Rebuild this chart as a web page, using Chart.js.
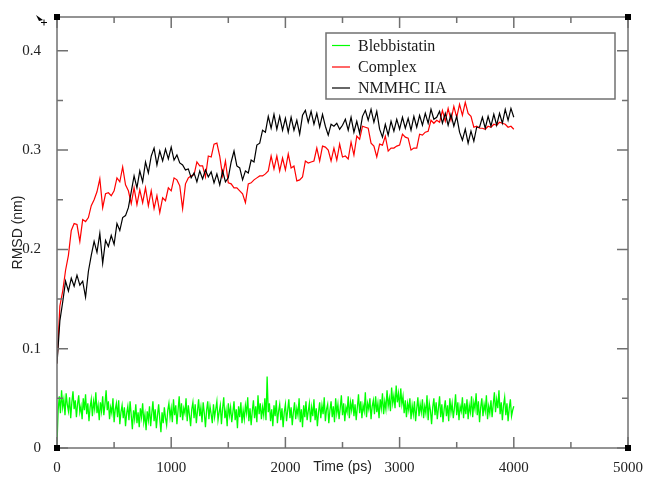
<!DOCTYPE html>
<html>
<head>
<meta charset="utf-8">
<script src="https://cdn.jsdelivr.net/npm/chart.js@4.4.1/dist/chart.umd.min.js"></script>
<style>
  html, body { margin: 0; padding: 0; background: #fff; }
  #wrap { width: 646px; height: 488px; position: relative; }
</style>
</head>
<body>
<div id="wrap"><canvas id="chart_rmsd"></canvas></div>
<script>
// time grid (ps) for the protein traces, 25 ps apart
var timeProt = [
    0, 25, 50, 75, 100, 125, 150, 175,
    200, 225, 250, 275, 300, 325, 350, 375,
    400, 425, 450, 475, 500, 525, 550, 575,
    600, 625, 650, 675, 700, 725, 750, 775,
    800, 825, 850, 875, 900, 925, 950, 975,
    1000, 1025, 1050, 1075, 1100, 1125, 1150, 1175,
    1200, 1225, 1250, 1275, 1300, 1325, 1350, 1375,
    1400, 1425, 1450, 1475, 1500, 1525, 1550, 1575,
    1600, 1625, 1650, 1675, 1700, 1725, 1750, 1775,
    1800, 1825, 1850, 1875, 1900, 1925, 1950, 1975,
    2000, 2025, 2050, 2075, 2100, 2125, 2150, 2175,
    2200, 2225, 2250, 2275, 2300, 2325, 2350, 2375,
    2400, 2425, 2450, 2475, 2500, 2525, 2550, 2575,
    2600, 2625, 2650, 2675, 2700, 2725, 2750, 2775,
    2800, 2825, 2850, 2875, 2900, 2925, 2950, 2975,
    3000, 3025, 3050, 3075, 3100, 3125, 3150, 3175,
    3200, 3225, 3250, 3275, 3300, 3325, 3350, 3375,
    3400, 3425, 3450, 3475, 3500, 3525, 3550, 3575,
    3600, 3625, 3650, 3675, 3700, 3725, 3750, 3775,
    3800, 3825, 3850, 3875, 3900, 3925, 3950, 3975,
    4000
];

// NMMHC IIA (black)
var rmsdNmmhc = [
    0.085, 0.128, 0.147, 0.168, 0.158, 0.171, 0.163, 0.174,
    0.164, 0.168, 0.152, 0.178, 0.194, 0.208, 0.197, 0.216,
    0.186, 0.209, 0.203, 0.214, 0.205, 0.226, 0.219, 0.232,
    0.234, 0.242, 0.258, 0.274, 0.262, 0.279, 0.268, 0.288,
    0.277, 0.294, 0.302, 0.285, 0.299, 0.289, 0.301, 0.291,
    0.303, 0.29, 0.295, 0.287, 0.285, 0.28, 0.281, 0.272,
    0.277, 0.268, 0.279, 0.271, 0.28, 0.273, 0.278, 0.267,
    0.276, 0.265, 0.279, 0.268, 0.272, 0.288, 0.299, 0.284,
    0.282, 0.27, 0.279, 0.277, 0.29, 0.288, 0.305, 0.307,
    0.32, 0.318, 0.334, 0.322, 0.336, 0.321, 0.334, 0.32,
    0.332, 0.318, 0.333, 0.32, 0.33, 0.316, 0.335, 0.34,
    0.328, 0.339, 0.326, 0.337, 0.323, 0.336, 0.324, 0.315,
    0.326, 0.324, 0.327, 0.321, 0.325, 0.331, 0.32, 0.333,
    0.318, 0.329, 0.317, 0.334, 0.34, 0.33, 0.341, 0.328,
    0.339, 0.321, 0.313, 0.326, 0.315, 0.329, 0.319, 0.331,
    0.321, 0.333, 0.322, 0.332, 0.32, 0.334, 0.323, 0.335,
    0.325, 0.337, 0.327, 0.341, 0.331, 0.333, 0.339, 0.327,
    0.337, 0.325, 0.336, 0.324, 0.334, 0.318, 0.31, 0.321,
    0.307, 0.319, 0.309, 0.323, 0.323, 0.333, 0.322, 0.334,
    0.324, 0.336, 0.325, 0.337, 0.327, 0.341, 0.33, 0.342,
    0.333
];

// Complex (red)
var rmsdComplex = [
    0.085, 0.143, 0.158, 0.179, 0.194, 0.219, 0.226, 0.225,
    0.208, 0.23, 0.228, 0.232, 0.244, 0.25, 0.258, 0.271,
    0.242, 0.256, 0.257, 0.254, 0.259, 0.272, 0.268, 0.283,
    0.265, 0.259, 0.246, 0.262, 0.245, 0.26, 0.247, 0.262,
    0.244, 0.259, 0.241, 0.254, 0.237, 0.252, 0.249, 0.262,
    0.259, 0.272, 0.27, 0.264, 0.241, 0.266, 0.272, 0.274,
    0.275, 0.288, 0.284, 0.284, 0.273, 0.294, 0.293, 0.306,
    0.307, 0.294, 0.274, 0.289, 0.267, 0.266, 0.262, 0.262,
    0.259, 0.256, 0.247, 0.266, 0.267, 0.27, 0.272, 0.274,
    0.274, 0.276, 0.279, 0.294, 0.281, 0.294, 0.279, 0.292,
    0.28, 0.296, 0.282, 0.284, 0.269, 0.27, 0.273, 0.289,
    0.287, 0.288, 0.289, 0.302, 0.289, 0.304, 0.303, 0.3,
    0.289, 0.302, 0.29, 0.306, 0.293, 0.294, 0.291, 0.308,
    0.295, 0.314, 0.311, 0.324, 0.323, 0.322, 0.307, 0.304,
    0.293, 0.306, 0.305, 0.314, 0.299, 0.302, 0.302, 0.304,
    0.305, 0.316, 0.313, 0.312, 0.3, 0.302, 0.302, 0.316,
    0.315, 0.318, 0.319, 0.33, 0.327, 0.33, 0.328, 0.34,
    0.329, 0.342, 0.33, 0.344, 0.333, 0.346, 0.335, 0.348,
    0.337, 0.334, 0.323, 0.324, 0.322, 0.322, 0.321, 0.324,
    0.323, 0.326, 0.325, 0.328, 0.327, 0.326, 0.323, 0.324,
    0.321
];

// time grid (ps) for the ligand trace, 10 ps apart
var timeLig = [
    0, 10, 20, 30, 40, 50, 60, 70, 80, 90, 100, 110, 120, 130, 140, 150, 160, 170, 180, 190,
    200, 210, 220, 230, 240, 250, 260, 270, 280, 290, 300, 310, 320, 330, 340, 350, 360, 370, 380, 390,
    400, 410, 420, 430, 440, 450, 460, 470, 480, 490, 500, 510, 520, 530, 540, 550, 560, 570, 580, 590,
    600, 610, 620, 630, 640, 650, 660, 670, 680, 690, 700, 710, 720, 730, 740, 750, 760, 770, 780, 790,
    800, 810, 820, 830, 840, 850, 860, 870, 880, 890, 900, 910, 920, 930, 940, 950, 960, 970, 980, 990,
    1000, 1010, 1020, 1030, 1040, 1050, 1060, 1070, 1080, 1090, 1100, 1110, 1120, 1130, 1140, 1150, 1160, 1170, 1180, 1190,
    1200, 1210, 1220, 1230, 1240, 1250, 1260, 1270, 1280, 1290, 1300, 1310, 1320, 1330, 1340, 1350, 1360, 1370, 1380, 1390,
    1400, 1410, 1420, 1430, 1440, 1450, 1460, 1470, 1480, 1490, 1500, 1510, 1520, 1530, 1540, 1550, 1560, 1570, 1580, 1590,
    1600, 1610, 1620, 1630, 1640, 1650, 1660, 1670, 1680, 1690, 1700, 1710, 1720, 1730, 1740, 1750, 1760, 1770, 1780, 1790,
    1800, 1810, 1820, 1830, 1840, 1850, 1860, 1870, 1880, 1890, 1900, 1910, 1920, 1930, 1940, 1950, 1960, 1970, 1980, 1990,
    2000, 2010, 2020, 2030, 2040, 2050, 2060, 2070, 2080, 2090, 2100, 2110, 2120, 2130, 2140, 2150, 2160, 2170, 2180, 2190,
    2200, 2210, 2220, 2230, 2240, 2250, 2260, 2270, 2280, 2290, 2300, 2310, 2320, 2330, 2340, 2350, 2360, 2370, 2380, 2390,
    2400, 2410, 2420, 2430, 2440, 2450, 2460, 2470, 2480, 2490, 2500, 2510, 2520, 2530, 2540, 2550, 2560, 2570, 2580, 2590,
    2600, 2610, 2620, 2630, 2640, 2650, 2660, 2670, 2680, 2690, 2700, 2710, 2720, 2730, 2740, 2750, 2760, 2770, 2780, 2790,
    2800, 2810, 2820, 2830, 2840, 2850, 2860, 2870, 2880, 2890, 2900, 2910, 2920, 2930, 2940, 2950, 2960, 2970, 2980, 2990,
    3000, 3010, 3020, 3030, 3040, 3050, 3060, 3070, 3080, 3090, 3100, 3110, 3120, 3130, 3140, 3150, 3160, 3170, 3180, 3190,
    3200, 3210, 3220, 3230, 3240, 3250, 3260, 3270, 3280, 3290, 3300, 3310, 3320, 3330, 3340, 3350, 3360, 3370, 3380, 3390,
    3400, 3410, 3420, 3430, 3440, 3450, 3460, 3470, 3480, 3490, 3500, 3510, 3520, 3530, 3540, 3550, 3560, 3570, 3580, 3590,
    3600, 3610, 3620, 3630, 3640, 3650, 3660, 3670, 3680, 3690, 3700, 3710, 3720, 3730, 3740, 3750, 3760, 3770, 3780, 3790,
    3800, 3810, 3820, 3830, 3840, 3850, 3860, 3870, 3880, 3890, 3900, 3910, 3920, 3930, 3940, 3950, 3960, 3970, 3980, 3990,
    4000
];

// Blebbistatin (green)
var rmsdBlebb = [
    0.004, 0.038, 0.052, 0.035, 0.058, 0.041, 0.049, 0.033, 0.055, 0.044, 0.037, 0.051, 0.03, 0.046, 0.057, 0.039, 0.048, 0.031, 0.044, 0.053,
    0.036, 0.042, 0.029, 0.05, 0.038, 0.054, 0.034, 0.045, 0.027, 0.041, 0.049, 0.032, 0.047, 0.039, 0.056, 0.035, 0.043, 0.028, 0.046, 0.037,
    0.052, 0.033, 0.044, 0.058, 0.038, 0.047, 0.029, 0.041, 0.035, 0.05, 0.026, 0.039, 0.045, 0.031, 0.048, 0.024, 0.036, 0.043, 0.03, 0.041,
    0.022, 0.035, 0.042, 0.028, 0.047, 0.033, 0.019, 0.038, 0.029, 0.044, 0.025, 0.036, 0.021, 0.04, 0.031, 0.045, 0.026, 0.034, 0.018, 0.037,
    0.028, 0.042, 0.022, 0.035, 0.047, 0.027, 0.039, 0.02, 0.033, 0.044, 0.029, 0.016, 0.036, 0.025, 0.041, 0.03, 0.023, 0.038, 0.045, 0.031,
    0.04, 0.026, 0.049, 0.033, 0.043, 0.024, 0.038, 0.052, 0.031, 0.045, 0.028, 0.04, 0.035, 0.05, 0.027, 0.043, 0.033, 0.022, 0.039, 0.046,
    0.03, 0.044, 0.025, 0.037, 0.049, 0.032, 0.041, 0.026, 0.046, 0.035, 0.021, 0.038, 0.047, 0.029, 0.042, 0.034, 0.025, 0.044, 0.031, 0.039,
    0.047, 0.028, 0.036, 0.043, 0.024, 0.04, 0.051, 0.03, 0.038, 0.022, 0.045, 0.033, 0.041, 0.026, 0.036, 0.047, 0.028, 0.039, 0.02, 0.042,
    0.031, 0.046, 0.025, 0.038, 0.029, 0.043, 0.035, 0.051, 0.027, 0.04, 0.023, 0.037, 0.048, 0.03, 0.042, 0.026, 0.053, 0.034, 0.045, 0.029,
    0.041, 0.033, 0.05, 0.028, 0.072, 0.036, 0.045, 0.027, 0.039, 0.022, 0.043, 0.032, 0.048, 0.025, 0.037, 0.044, 0.028, 0.04, 0.021, 0.036,
    0.044, 0.027, 0.038, 0.049, 0.03, 0.041, 0.023, 0.036, 0.046, 0.029, 0.04, 0.033, 0.05, 0.026, 0.039, 0.021, 0.043, 0.031, 0.047, 0.028,
    0.037, 0.045, 0.026, 0.041, 0.032, 0.049, 0.028, 0.04, 0.022, 0.036, 0.046, 0.03, 0.043, 0.034, 0.051, 0.027, 0.039, 0.044, 0.025, 0.038,
    0.047, 0.031, 0.042, 0.026, 0.05, 0.035, 0.044, 0.029, 0.04, 0.053, 0.033, 0.045, 0.027, 0.041, 0.036, 0.052, 0.03, 0.046, 0.038, 0.049,
    0.032, 0.044, 0.028, 0.041, 0.054, 0.035, 0.047, 0.03, 0.043, 0.037, 0.056, 0.031, 0.045, 0.039, 0.05, 0.029, 0.042, 0.048, 0.034, 0.052,
    0.036, 0.045, 0.03, 0.049, 0.04, 0.055, 0.034, 0.047, 0.039, 0.058, 0.042, 0.05, 0.037, 0.061, 0.045, 0.053, 0.04, 0.063, 0.046, 0.055,
    0.041, 0.06, 0.044, 0.052, 0.035, 0.048, 0.031, 0.045, 0.038, 0.05, 0.029, 0.043, 0.034, 0.047, 0.027, 0.04, 0.051, 0.032, 0.044, 0.036,
    0.049, 0.03, 0.042, 0.035, 0.053, 0.028, 0.045, 0.038, 0.024, 0.041, 0.05, 0.033, 0.046, 0.029, 0.04, 0.052, 0.031, 0.044, 0.026, 0.039,
    0.048, 0.032, 0.043, 0.027, 0.05, 0.036, 0.045, 0.03, 0.04, 0.054, 0.033, 0.046, 0.028, 0.042, 0.037, 0.051, 0.03, 0.045, 0.034, 0.049,
    0.029, 0.043, 0.036, 0.052, 0.031, 0.046, 0.039, 0.055, 0.033, 0.047, 0.026, 0.041, 0.05, 0.032, 0.044, 0.037, 0.053, 0.029, 0.042, 0.035,
    0.048, 0.031, 0.044, 0.056, 0.036, 0.049, 0.04, 0.058, 0.034, 0.046, 0.028, 0.043, 0.051, 0.033, 0.045, 0.027, 0.04, 0.049, 0.032, 0.038,
    0.042
];

var seriesNames = ['Blebbistatin', 'Complex', 'NMMHC IIA'];
var seriesColors = ['#00ff00', '#ff0000', '#000000'];

var xMajor = [0, 1000, 2000, 3000, 4000, 5000];
var xMinor = [500, 1500, 2500, 3500, 4500];
var yMajor = [0, 0.1, 0.2, 0.3, 0.4];
var yMinor = [0.05, 0.15, 0.25, 0.35];

function pairs(xs, ys) {
    return xs.map(function (t, i) { return { x: t, y: ys[i] }; });
}

// xmgrace-like frame: inward ticks on all four sides, corner handles, legend box
var graceFrame = {
    id: 'graceFrame',
    afterDatasetsDraw: (chart) => {
        const ctx = chart.ctx;
        const a = chart.chartArea;
        const xs = chart.scales.x, ys = chart.scales.y;
        ctx.save();
        ctx.strokeStyle = '#707070';
        ctx.lineWidth = 1.5;
        ctx.strokeRect(a.left, a.top, a.right - a.left, a.bottom - a.top);

        ctx.beginPath();
        const tickX = (v, len) => {
            const p = xs.getPixelForValue(v);
            ctx.moveTo(p, a.bottom); ctx.lineTo(p, a.bottom - len);
            ctx.moveTo(p, a.top); ctx.lineTo(p, a.top + len);
        };
        const tickY = (v, len) => {
            const p = ys.getPixelForValue(v);
            ctx.moveTo(a.left, p); ctx.lineTo(a.left + len, p);
            ctx.moveTo(a.right, p); ctx.lineTo(a.right - len, p);
        };
        xMajor.forEach(v => tickX(v, 11));
        xMinor.forEach(v => tickX(v, 6));
        yMajor.forEach(v => tickY(v, 11));
        yMinor.forEach(v => tickY(v, 6));
        ctx.stroke();

        // corner handles
        ctx.fillStyle = '#000';
        [[a.left, a.top], [a.right, a.top], [a.right, a.bottom], [a.left, a.bottom]].forEach(c => {
            ctx.fillRect(c[0] - 3, c[1] - 3, 6, 6);
        });

        // little cursor mark at top left
        ctx.beginPath();
        ctx.moveTo(36, 15); ctx.lineTo(43, 20); ctx.lineTo(39, 21); ctx.closePath();
        ctx.fill();
        ctx.lineWidth = 1;
        ctx.strokeStyle = '#000';
        ctx.beginPath();
        ctx.moveTo(41, 22.5); ctx.lineTo(47, 22.5);
        ctx.moveTo(44, 19.5); ctx.lineTo(44, 25.5);
        ctx.stroke();

        // legend
        ctx.strokeStyle = '#707070';
        ctx.lineWidth = 1.5;
        ctx.strokeRect(326, 33, 289, 66);
        ctx.font = '16px "Liberation Serif", serif';
        ctx.textBaseline = 'middle';
        ctx.textAlign = 'left';
        const rows = [45.5, 67, 88];
        chart.data.datasets.forEach((ds) => {
            const yy = rows[seriesNames.indexOf(ds.label)];
            ctx.strokeStyle = ds.borderColor;
            ctx.lineWidth = 1.2;
            ctx.beginPath();
            ctx.moveTo(332, yy); ctx.lineTo(350, yy);
            ctx.stroke();
            ctx.fillStyle = '#1a1a1a';
            ctx.fillText(ds.label, 358, yy + 1);
        });
        ctx.restore();
    }
};

var chart_rmsd = new Chart(document.getElementById('chart_rmsd'), {
    type: 'line',
    data: {
        datasets: [
            {
                label: seriesNames[0],
                data: pairs(timeLig, rmsdBlebb),
                borderColor: seriesColors[0],
                borderWidth: 1.3,
                order: 2
            },
            {
                label: seriesNames[1],
                data: pairs(timeProt, rmsdComplex),
                borderColor: seriesColors[1],
                borderWidth: 1.2,
                order: 1
            },
            {
                label: seriesNames[2],
                data: pairs(timeProt, rmsdNmmhc),
                borderColor: seriesColors[2],
                borderWidth: 1.2,
                order: 0
            }
        ]
    },
    options: {
        animation: false,
        responsive: true,
        maintainAspectRatio: false,
        parsing: false,
        elements: {
            point: { radius: 0 },
            line: { tension: 0 }
        },
        layout: {
            padding: { top: 16, right: 17, left: 0, bottom: 0 }
        },
        plugins: {
            legend: { display: false },
            tooltip: { enabled: false }
        },
        scales: {
            x: {
                type: 'linear',
                min: 0,
                max: 5000,
                grid: { display: false },
                border: { display: false },
                afterBuildTicks: (scale) => { scale.ticks = xMajor.map(v => ({ value: v })); },
                afterFit: (scale) => { scale.height = 40; },
                ticks: {
                    padding: 3,
                    maxRotation: 0,
                    color: '#222',
                    font: { family: '"Liberation Serif", serif', size: 15 },
                    callback: (v) => String(v)
                },
                title: {
                    display: true,
                    text: 'Time (ps)',
                    color: '#222',
                    font: { family: '"Liberation Sans", sans-serif', size: 14 },
                    padding: { top: 0, bottom: 12 }
                }
            },
            y: {
                type: 'linear',
                min: 0,
                max: 0.434,
                grid: { display: false },
                border: { display: false },
                afterBuildTicks: (scale) => { scale.ticks = yMajor.map(v => ({ value: v })); },
                afterFit: (scale) => { scale.width = 57; },
                ticks: {
                    padding: 8,
                    color: '#222',
                    font: { family: '"Liberation Serif", serif', size: 15 },
                    callback: (v) => v === 0 ? '0' : v.toFixed(1)
                },
                title: {
                    display: true,
                    text: 'RMSD (nm)',
                    color: '#222',
                    font: { family: '"Liberation Sans", sans-serif', size: 14 },
                    padding: { top: 10, bottom: 0 }
                }
            }
        }
    },
    plugins: [graceFrame]
});
</script>
</body>
</html>
